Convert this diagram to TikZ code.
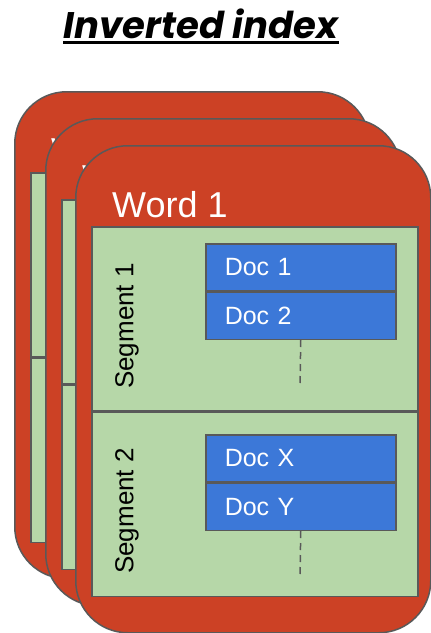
\documentclass[tikz,border=0pt]{standalone}
\usepackage{fontspec}
\setmainfont{Liberation Sans}
\newfontfamily\titlefont{Poppins}
\usetikzlibrary{positioning}

\definecolor{cardred}{HTML}{CC4125}
\definecolor{seggreen}{HTML}{B6D7A8}
\definecolor{docblue}{HTML}{3C78D8}
\definecolor{edgegray}{HTML}{595959}

\tikzset{
  card/.style={draw=edgegray, line width=1.5pt, fill=cardred, rounded corners=52pt,
    minimum width=355pt, minimum height=487pt, inner sep=0pt, anchor=north west},
  segbox/.style={draw=edgegray, line width=1.5pt, fill=seggreen,
    minimum width=326pt, minimum height=184pt, inner sep=0pt},
  segtext/.style={rotate=90, font=\fontsize{26}{30}\selectfont},
  wordtext/.style={text=white, anchor=base west, inner sep=0pt, font=\fontsize{36}{40}\selectfont},
  docbox/.style={draw=edgegray, line width=1.5pt, fill=docblue, text=white,
    text width=152pt, inner xsep=19pt, inner ysep=0pt, minimum height=47pt,
    align=left, font=\fontsize{25}{30}\selectfont},
  tailline/.style={draw=edgegray, line width=1.5pt, dash pattern=on 7pt off 5pt}
}

\begin{document}
\begin{tikzpicture}[x=1pt, y=-1pt]
    \useasboundingbox (0,0) rectangle (431,633);

    % title
    \node[inner sep=0pt, anchor=base, font=\fontsize{37}{40}\selectfont] (title) at (201,38)
        {\titlefont\bfseries\itshape Inverted index};
    \draw[line width=3pt] ([yshift=-3.5pt]title.south west) -- ([yshift=-3.5pt]title.south east);

    % stacked word cards, back to front
    \foreach \i/\x/\y in {3/14/91, 2/45/118, 1/75/145} {
        \node[card] (card\i) at (\x,\y) {};
        \node[wordtext] (word\i) at (\x+37,\y+72) {Word \i};
        \node[segbox, anchor=north west] (seg\i a) at (\x+16,\y+81) {};
        \node[segbox, below=0pt of seg\i a] (seg\i b) {};
        \node[segtext] (lbl\i a) at (\x+52,\y+181) {Segment 1};
        \node[segtext] (lbl\i b) at (\x+52,\y+366) {Segment 2};
    }

    % posting lists of the front card
    \node[docbox, anchor=north west] (doc1) at (205,243) {Doc 1};
    \node[docbox, below=0pt of doc1] (doc2) {Doc 2};
    \node[docbox, anchor=north west] (docX) at (205,434) {Doc X};
    \node[docbox, below=0pt of docX] (docY) {Doc Y};

    \coordinate (tail1) at (300,387);
    \coordinate (tail2) at (300,577);
    \draw[tailline] (doc2.south) -- (tail1);
    \draw[tailline] (docY.south) -- (tail2);

\end{tikzpicture}
\end{document}
